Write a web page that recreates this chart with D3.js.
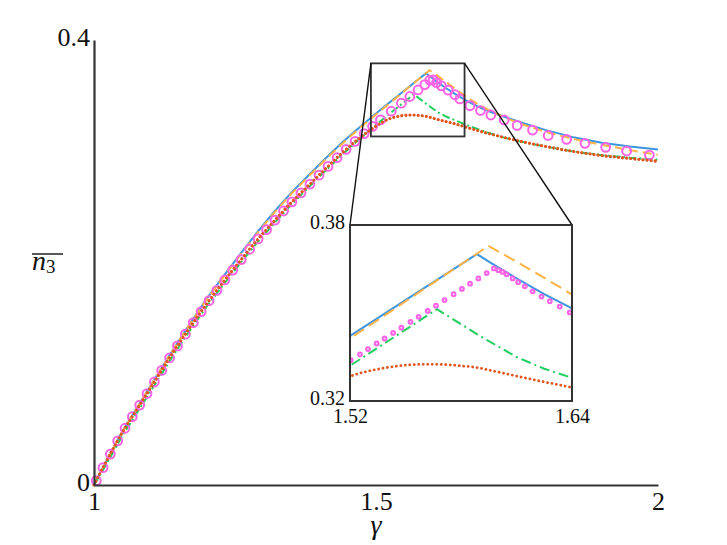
<!DOCTYPE html>
<html>
<head>
<meta charset="utf-8">
<script src="https://cdn.jsdelivr.net/npm/d3@7"></script>
<style>
  body { margin: 0; background: #fff; }
  text { font-family: "Liberation Serif", "DejaVu Serif", serif; fill: #111; }
</style>
</head>
<body>
<div id="chart"></div>
<script>
/*
    DATA
*/
let gammaGrid = [1.00, 1.02, 1.05, 1.08, 1.11, 1.14, 1.17, 1.20, 1.23, 1.26, 1.29, 1.32, 1.35, 1.38, 1.41, 1.44, 1.47, 1.50,
    1.52, 1.54, 1.56, 1.567, 1.58, 1.5886, 1.5948, 1.61, 1.625, 1.64, 1.66, 1.68, 1.70, 1.73, 1.76, 1.80, 1.85, 1.90, 1.95, 2.00];

let blueN = [0, 0.0197, 0.048, 0.0725, 0.0972, 0.1215, 0.145, 0.1675, 0.188, 0.208, 0.2275, 0.246, 0.2628, 0.2782, 0.2933, 0.3078, 0.3212, 0.334,
    0.3422, 0.3503, 0.3585, 0.3613, 0.3666, 0.3701, 0.3676, 0.3618, 0.3564, 0.3516, 0.3455, 0.3403, 0.336, 0.3306, 0.3255, 0.3192, 0.3125, 0.3076, 0.3042, 0.3015];

let orangeN = [0, 0.0197, 0.048, 0.0724, 0.097, 0.1212, 0.1446, 0.167, 0.1873, 0.2072, 0.2266, 0.245, 0.2618, 0.2772, 0.2923, 0.3068, 0.3203, 0.3331,
    0.3413, 0.3497, 0.3582, 0.3611, 0.3666, 0.3702, 0.3729, 0.3675, 0.362, 0.3563, 0.349, 0.3425, 0.337, 0.33, 0.324, 0.3175, 0.311, 0.3058, 0.301, 0.2968];

let greenN = [0, 0.017, 0.044, 0.068, 0.092, 0.116, 0.139, 0.1605, 0.1805, 0.1997, 0.2183, 0.2355, 0.252, 0.2672, 0.2823, 0.2968, 0.3105, 0.3237,
    0.332, 0.3402, 0.3484, 0.3513, 0.3462, 0.3428, 0.3405, 0.335, 0.331, 0.3279, 0.3238, 0.32, 0.3165, 0.3118, 0.3083, 0.3042, 0.2998, 0.2965, 0.2942, 0.2925];

let redN = [0, 0.0195, 0.047, 0.071, 0.095, 0.119, 0.1416, 0.163, 0.183, 0.202, 0.2206, 0.2375, 0.254, 0.269, 0.284, 0.2985, 0.3115, 0.3225,
    0.3284, 0.3314, 0.3325, 0.3325, 0.332, 0.3314, 0.3306, 0.3285, 0.3265, 0.3246, 0.3216, 0.3186, 0.3158, 0.312, 0.3085, 0.3044, 0.2998, 0.2962, 0.2935, 0.291];

// open circles of the main panel
let circleGamma = [1.004, 1.016, 1.029, 1.042, 1.055, 1.068, 1.081, 1.094, 1.107, 1.120, 1.134, 1.148, 1.162, 1.176, 1.190, 1.204, 1.218, 1.232,
    1.246, 1.261, 1.276, 1.291, 1.306, 1.321, 1.336, 1.351, 1.367, 1.383, 1.399, 1.415, 1.431, 1.447, 1.463, 1.479, 1.494, 1.508,
    1.527, 1.545, 1.560, 1.5746, 1.5865, 1.5954, 1.6013, 1.6073, 1.616, 1.628, 1.640, 1.6487, 1.6667, 1.6853, 1.7036, 1.7273,
    1.7503, 1.7776, 1.8053, 1.838, 1.8705, 1.9072, 1.9444, 1.9846];
let circleN = [0.0039, 0.0156, 0.0278, 0.0397, 0.051, 0.0614, 0.0718, 0.0822, 0.0926, 0.103, 0.1142, 0.125, 0.1356, 0.1459, 0.1559, 0.1657, 0.175, 0.1843,
    0.1931, 0.2026, 0.2119, 0.2212, 0.2296, 0.2381, 0.2463, 0.2545, 0.2625, 0.2705, 0.2785, 0.2864, 0.2942, 0.3017, 0.3089, 0.3159, 0.3224, 0.3282,
    0.336, 0.3432, 0.3492, 0.3551, 0.3599, 0.3638, 0.3642, 0.3617, 0.3588, 0.355, 0.3508, 0.347, 0.341, 0.3366, 0.3326, 0.3281,
    0.3232, 0.319, 0.3142, 0.3107, 0.3071, 0.3035, 0.3002, 0.2966];

// denser dots of the zoomed inset
let insetDotGamma = [1.5204, 1.5254, 1.5297, 1.5344, 1.5387, 1.5433, 1.5478, 1.5527, 1.5571, 1.562, 1.5665, 1.5711, 1.576, 1.5805, 1.5849,
    1.5894, 1.5939, 1.5978, 1.6002, 1.6025, 1.6047, 1.6079, 1.6109, 1.6145, 1.6187, 1.6235, 1.628, 1.6334, 1.6388];
let insetDotN = [0.3339, 0.3359, 0.3377, 0.3396, 0.3413, 0.3432, 0.345, 0.347, 0.3487, 0.3507, 0.3525, 0.3544, 0.3564, 0.3582, 0.36,
    0.3618, 0.3636, 0.3652, 0.3646, 0.364, 0.3632, 0.3618, 0.3605, 0.3591, 0.3574, 0.3556, 0.354, 0.3522, 0.3502];

let xTicks = [1, 1.5, 2];
let xTickLabels = ["1", "1.5", "2"];
let yTicks = [0, 0.4];
let yTickLabels = ["0", "0.4"];
let insetXTicks = [1.52, 1.64];
let insetYTicks = [0.32, 0.38];
let zoomBox = { x0: 1.491, x1: 1.657, y0: 0.3133, y1: 0.379 };

/*
    LAYOUT
*/
let WIDTH = 727, HEIGHT = 545;
let PLOT = { left: 94, right: 658, top: 40, bot: 485 };
let INSET = { left: 350, right: 572, top: 225, bot: 401 };

let series = [
    { name: "blue", values: blueN, color: "#3d95df", dash: null, dashInset: null, width: 2, curve: d3.curveLinear },
    { name: "orange", values: orangeN, color: "#ffb347", dash: "9,5", dashInset: "12,6", width: 2, curve: d3.curveLinear },
    { name: "green", values: greenN, color: "#1fcf5f", dash: "8,3,2,3", dashInset: "10,4,2,4", width: 2, curve: d3.curveLinear },
    { name: "red", values: redN, color: "#e0561f", dash: "0.1,4", dashInset: "0.1,4.4", width: 2.8, curve: d3.curveMonotoneX, round: true }
];

let svg = d3.select("#chart")
    .append("svg")
    .attr("width", WIDTH)
    .attr("height", HEIGHT);

let x = d3.scaleLinear().domain([1, 2]).range([PLOT.left, PLOT.right]);
let y = d3.scaleLinear().domain([0, 0.4]).range([PLOT.bot, PLOT.top]);

let xi = d3.scaleLinear().domain(insetXTicks).range([INSET.left, INSET.right]);
let yi = d3.scaleLinear().domain(insetYTicks).range([INSET.bot, INSET.top]);

svg.append("defs").append("clipPath").attr("id", "insetClip")
    .append("rect")
    .attr("x", INSET.left).attr("y", INSET.top)
    .attr("width", INSET.right - INSET.left).attr("height", INSET.bot - INSET.top);

function drawSeries(g, sx, sy, inset) {
    series.forEach((s) => {
        let pts = gammaGrid.map((gm, i) => [gm, s.values[i]]);
        let line = d3.line().x(d => sx(d[0])).y(d => sy(d[1])).curve(s.curve);
        g.append("path")
            .datum(pts)
            .attr("d", line)
            .attr("fill", "none")
            .attr("stroke", s.color)
            .attr("stroke-width", s.width)
            .attr("stroke-linecap", s.round ? "round" : "butt")
            .attr("stroke-dasharray", inset ? s.dashInset : s.dash);
    });
}

/*
    MAIN PANEL
*/
let main = svg.append("g");
drawSeries(main, x, y, false);

main.selectAll("circle.ring")
    .data(circleGamma)
    .enter()
    .append("circle")
    .attr("class", "ring")
    .attr("cx", d => x(d))
    .attr("cy", (d, i) => y(circleN[i]))
    .attr("r", 4.4)
    .attr("fill", "none")
    .attr("stroke", "#fb62e6")
    .attr("stroke-width", 2);

// red dots over the rings
main.append("path")
    .datum(gammaGrid.map((gm, i) => [gm, redN[i]]))
    .attr("d", d3.line().x(d => x(d[0])).y(d => y(d[1])).curve(d3.curveMonotoneX))
    .attr("fill", "none")
    .attr("stroke", "#e0561f")
    .attr("stroke-width", 2.8)
    .attr("stroke-linecap", "round")
    .attr("stroke-dasharray", "0.1,4");

// axes
let xAxis = d3.axisBottom(x).tickValues(xTicks).tickSize(0).tickSizeOuter(0).tickPadding(7)
    .tickFormat((d, i) => xTickLabels[i]);
let yAxis = d3.axisLeft(y).tickValues(yTicks).tickSize(0).tickSizeOuter(0).tickPadding(4)
    .tickFormat((d, i) => yTickLabels[i]);

let gx = svg.append("g").attr("transform", `translate(0,${PLOT.bot})`).call(xAxis);
let gy = svg.append("g").attr("transform", `translate(${PLOT.left},0)`).call(yAxis);
[gx, gy].forEach(g => {
    g.select(".domain").attr("stroke", "#333").attr("stroke-width", 2.2);
    g.selectAll("text").attr("font-family", "Liberation Serif").attr("font-size", 26).attr("fill", "#111");
});
gy.selectAll("text").attr("dy", "0.2em");

svg.append("text")
    .attr("x", x(1.5)).attr("y", 534)
    .attr("text-anchor", "middle")
    .attr("font-size", 28).attr("font-style", "italic")
    .text("γ");

let ylab = svg.append("text").attr("x", 32).attr("y", 270).attr("font-size", 28);
ylab.append("tspan").attr("font-style", "italic").text("n");
ylab.append("tspan").attr("font-size", 19).attr("dy", 3).text("3");
svg.append("line")
    .attr("x1", 32).attr("x2", 63).attr("y1", 254).attr("y2", 254)
    .attr("stroke", "#111").attr("stroke-width", 1.4);

/*
    ZOOM BOX + CONNECTORS
*/
svg.append("rect")
    .attr("x", x(zoomBox.x0)).attr("y", y(zoomBox.y1))
    .attr("width", x(zoomBox.x1) - x(zoomBox.x0))
    .attr("height", y(zoomBox.y0) - y(zoomBox.y1))
    .attr("fill", "none").attr("stroke", "#333").attr("stroke-width", 1.8);

svg.append("line")
    .attr("x1", x(zoomBox.x0)).attr("y1", y(zoomBox.y1))
    .attr("x2", INSET.left).attr("y2", INSET.top)
    .attr("stroke", "#111").attr("stroke-width", 1.4);
svg.append("line")
    .attr("x1", x(zoomBox.x1)).attr("y1", y(zoomBox.y1))
    .attr("x2", INSET.right).attr("y2", INSET.top)
    .attr("stroke", "#111").attr("stroke-width", 1.4);

/*
    INSET
*/
svg.append("rect")
    .attr("x", INSET.left).attr("y", INSET.top)
    .attr("width", INSET.right - INSET.left).attr("height", INSET.bot - INSET.top)
    .attr("fill", "#fff");

let inset = svg.append("g").attr("clip-path", "url(#insetClip)");
drawSeries(inset, xi, yi, true);

inset.selectAll("circle.dot")
    .data(insetDotGamma)
    .enter()
    .append("circle")
    .attr("class", "dot")
    .attr("cx", d => xi(d))
    .attr("cy", (d, i) => yi(insetDotN[i]))
    .attr("r", 1.9)
    .attr("fill", "#ffd6f7")
    .attr("stroke", "#fb62e6")
    .attr("stroke-width", 2);

svg.append("rect")
    .attr("x", INSET.left).attr("y", INSET.top)
    .attr("width", INSET.right - INSET.left).attr("height", INSET.bot - INSET.top)
    .attr("fill", "none").attr("stroke", "#333").attr("stroke-width", 2);

let ixAxis = d3.axisBottom(xi).tickValues(insetXTicks).tickSize(0).tickPadding(8).tickFormat(d3.format(".2f"));
let iyAxis = d3.axisLeft(yi).tickValues(insetYTicks).tickSize(0).tickPadding(5).tickFormat(d3.format(".2f"));
let gix = svg.append("g").attr("transform", `translate(0,${INSET.bot})`).call(ixAxis);
let giy = svg.append("g").attr("transform", `translate(${INSET.left},0)`).call(iyAxis);
[gix, giy].forEach(g => {
    g.select(".domain").remove();
    g.selectAll("text").attr("font-family", "Liberation Serif").attr("font-size", 20).attr("fill", "#111");
});
giy.selectAll("text").attr("dy", "0.15em");
</script>
</body>
</html>
